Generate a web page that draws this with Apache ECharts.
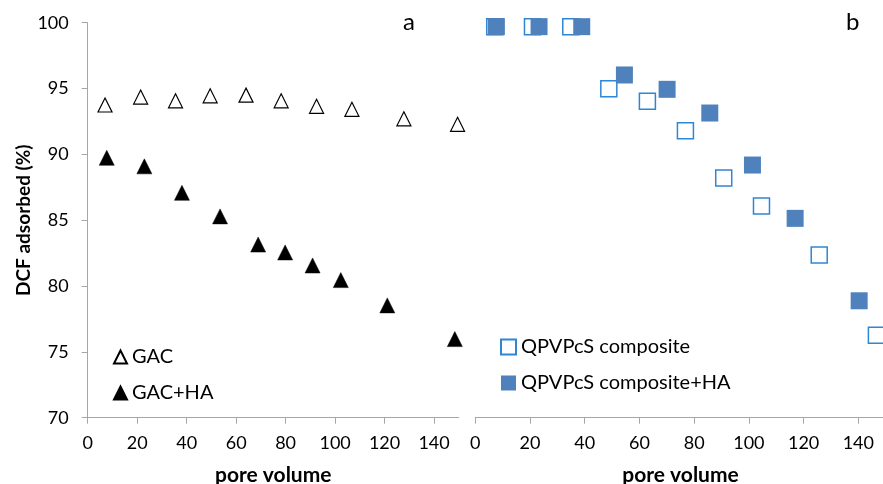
<!DOCTYPE html>
<html>
<head>
<meta charset="utf-8">
<script src="https://cdn.jsdelivr.net/npm/echarts@6/dist/echarts.min.js"></script>
<style>
html,body{margin:0;padding:0;background:#fff;}
#chart{width:883px;height:484px;}
</style>
</head>
<body>
<div id="chart"></div>
<script>
// Panel a: GAC
var gacX = [7.0, 21.4, 35.5, 49.5, 64.0, 78.2, 92.5, 106.8, 127.8, 149.5];
var gacY = [93.75, 94.35, 94.07, 94.45, 94.5, 94.07, 93.65, 93.42, 92.7, 92.28];
var gacHaX = [7.7, 22.9, 38.1, 53.5, 68.9, 79.8, 90.9, 102.3, 121.1, 148.4];
var gacHaY = [89.74, 89.09, 87.08, 85.29, 83.15, 82.55, 81.56, 80.45, 78.53, 75.97];
// Panel b: QPVPcS composite
var qX = [7.1, 20.9, 34.9, 48.8, 62.9, 76.8, 90.8, 104.6, 125.7, 146.6];
var qY = [99.7, 99.7, 99.7, 94.99, 94.03, 91.8, 88.2, 86.07, 82.35, 76.27];
var qHaX = [7.7, 23.3, 38.9, 54.5, 70.1, 85.7, 101.3, 116.9, 140.3];
var qHaY = [99.7, 99.7, 99.7, 96.03, 94.94, 93.14, 89.19, 85.14, 78.88];

var yTicks = {min: 70, max: 100, interval: 5};
var xTicks = {min: 0, max: 150, interval: 20};

function pairs(xs, ys) { return xs.map(function (x, i) { return [x, ys[i]]; }); }

var FONT = 'Lato';
var axisColor = '#a6a6a6';

var chart = echarts.init(document.getElementById('chart'));
chart.setOption({
  animation: false,
  textStyle: {fontFamily: FONT},
  title: [
    {text: 'a', left: 403, top: 10, padding: 0, textStyle: {fontFamily: FONT, fontSize: 24, fontWeight: 'normal', color: '#000'}},
    {text: 'b', left: 846, top: 10, padding: 0, textStyle: {fontFamily: FONT, fontSize: 24, fontWeight: 'normal', color: '#000'}}
  ],
  grid: [
    {left: 87.7, top: 22.7, width: 371.1, height: 395, containLabel: false, outerBoundsMode: 'none'},
    {left: 475.3, top: 22.7, width: 410.4, height: 395, containLabel: false, outerBoundsMode: 'none'}
  ],
  legend: [
    {
      orient: 'vertical', left: 113, top: 347, padding: 0, itemWidth: 13, itemHeight: 13, itemGap: 16,
      textStyle: {fontFamily: FONT, fontSize: 20, lineHeight: 20, color: '#000'},
      data: ['GAC', 'GAC+HA']
    },
    {
      orient: 'vertical', left: 500, top: 337, padding: 0, itemWidth: 15, itemHeight: 15, itemGap: 16,
      textStyle: {fontFamily: FONT, fontSize: 20, lineHeight: 20, color: '#000'},
      data: ['QPVPcS composite', 'QPVPcS composite+HA']
    }
  ],
  xAxis: [0, 1].map(function (g) {
    return {
      type: 'value', gridIndex: g, min: xTicks.min, max: xTicks.max, interval: xTicks.interval,
      name: 'pore volume', nameLocation: 'middle', nameGap: 47,
      nameTextStyle: {fontFamily: FONT, fontSize: 21, fontWeight: 'bold', color: '#000'},
      axisLine: {show: true, onZero: false, lineStyle: {color: axisColor, width: 1}},
      axisTick: {show: true, inside: false, length: 6, lineStyle: {color: axisColor}},
      axisLabel: {fontFamily: FONT, fontSize: 18, color: '#000', margin: 16, showMaxLabel: false},
      splitLine: {show: false}
    };
  }),
  yAxis: [
    {
      type: 'value', gridIndex: 0, min: yTicks.min, max: yTicks.max, interval: yTicks.interval,
      name: 'DCF adsorbed (%)', nameLocation: 'middle', nameGap: 54, nameRotate: 90,
      nameTextStyle: {fontFamily: FONT, fontSize: 19, fontWeight: 'bold', color: '#000'},
      axisLine: {show: true, lineStyle: {color: axisColor, width: 1}},
      axisTick: {show: true, inside: false, length: 6, lineStyle: {color: axisColor}},
      axisLabel: {fontFamily: FONT, fontSize: 18, color: '#000', margin: 19},
      splitLine: {show: false}
    },
    {
      type: 'value', gridIndex: 1, min: yTicks.min, max: yTicks.max, interval: yTicks.interval,
      show: false, splitLine: {show: false}
    }
  ],
  series: [
    {
      name: 'GAC', type: 'scatter', xAxisIndex: 0, yAxisIndex: 0,
      symbol: 'triangle', symbolSize: 14,
      itemStyle: {color: '#ffffff', borderColor: '#000000', borderWidth: 1.2, opacity: 1},
      data: pairs(gacX, gacY)
    },
    {
      name: 'GAC+HA', type: 'scatter', xAxisIndex: 0, yAxisIndex: 0,
      symbol: 'triangle', symbolSize: 15,
      itemStyle: {color: '#000000', borderColor: '#000000', borderWidth: 0.5, opacity: 1},
      data: pairs(gacHaX, gacHaY)
    },
    {
      name: 'QPVPcS composite', type: 'scatter', xAxisIndex: 1, yAxisIndex: 1,
      symbol: 'rect', symbolSize: 16,
      itemStyle: {color: '#ffffff', borderColor: '#2f86d4', borderWidth: 1.5, opacity: 1},
      data: pairs(qX, qY)
    },
    {
      name: 'QPVPcS composite+HA', type: 'scatter', xAxisIndex: 1, yAxisIndex: 1,
      symbol: 'rect', symbolSize: 17,
      itemStyle: {color: '#4f81bd', borderColor: '#4f81bd', borderWidth: 0, opacity: 1},
      data: pairs(qHaX, qHaY)
    }
  ]
});
</script>
</body>
</html>
